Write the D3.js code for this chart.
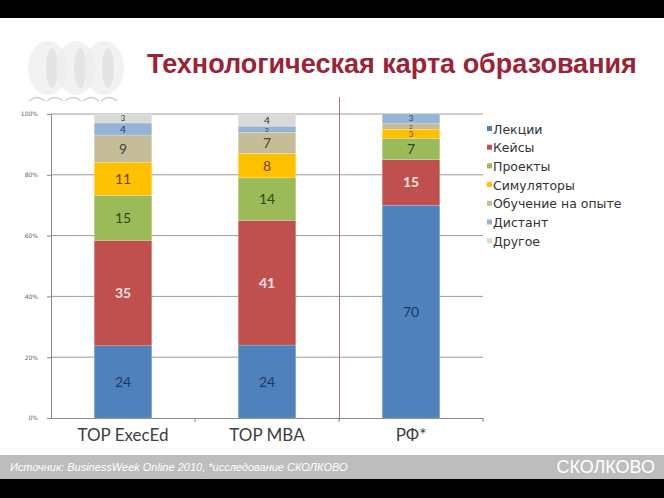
<!DOCTYPE html>
<html><head><meta charset="utf-8">
<script src="https://cdn.jsdelivr.net/npm/d3@7"></script>
<style>body{margin:0;background:#fff}svg{display:block}</style>
</head><body>
<svg id="c" width="664" height="498"></svg>
<script>
const categories = ["TOP ExecEd", "TOP MBA", "РФ*"];
const seriesNames = ["Лекции", "Кейсы", "Проекты", "Симуляторы", "Обучение на опыте", "Дистант", "Другое"];
const lectures   = [24, 24, 70];
const cases      = [35, 41, 15];
const projects   = [15, 14, 7];
const simulators = [11, 8, 3];
const experience = [9, 7, 2];
const distance   = [4, 2, 3];
const other      = [3, 4, 0];
const yTicks = [0, 0.2, 0.4, 0.6, 0.8, 1.0];
const yTickLabels = ["0%", "20%", "40%", "60%", "80%", "100%"];

const colors = ["#4F81BD", "#C0504D", "#9BBB59", "#FFC000", "#C4BD97", "#95B3D7", "#D9D9D9"];
const labelColors = ["#1F3864", "#F8E4E4", "#2E4A17", "#6B4200", "#4A4536", "#1F3864", "#333333"];

const seriesVals = [lectures, cases, projects, simulators, experience, distance, other];
const table = categories.map((c, i) => {
  const o = {cat: c};
  seriesNames.forEach((s, j) => o[s] = seriesVals[j][i]);
  return o;
});
const stacked = d3.stack().keys(seriesNames).offset(d3.stackOffsetExpand)(table);

const svg = d3.select("#c");
// background bands
svg.append("rect").attr("x",0).attr("y",0).attr("width",664).attr("height",18).attr("fill","#000");
svg.append("rect").attr("x",0).attr("y",455).attr("width",664).attr("height",24).attr("fill","#BDBDBD");
svg.append("rect").attr("x",0).attr("y",479).attr("width",664).attr("height",19).attr("fill","#000");

// logo
const logo = svg.append("g").attr("fill","none");
[48, 76, 104].forEach(cx => {
  logo.append("ellipse").attr("cx",cx).attr("cy",68).attr("rx",20).attr("ry",27).attr("fill","#ececec").attr("opacity",0.7);
  logo.append("ellipse").attr("cx",cx+4).attr("cy",68).attr("rx",6).attr("ry",20).attr("fill","#dadada").attr("opacity",0.6);
});
for (let k = 0; k < 5; k++) {
  logo.append("path").attr("d", `M${29+k*18},101 q8,-7 16,0`).attr("stroke","#cccccc").attr("stroke-width",1.5);
}

// title
svg.append("text").attr("x",147).attr("y",73).attr("fill","#9B2335")
  .attr("font-family","Liberation Sans, Arial, sans-serif").attr("font-size",27).attr("font-weight","bold")
  .text("Технологическая карта образования");

const x = d3.scaleBand().domain(categories).range([51, 483]).paddingInner(0.6).paddingOuter(0.3);
const y = d3.scaleLinear().domain([0, 1]).range([418, 114]);

// grid
svg.append("g").selectAll("line").data(yTicks.slice(1)).join("line")
  .attr("x1",51).attr("x2",483).attr("y1",d=>y(d)).attr("y2",d=>y(d))
  .attr("stroke","#9a9a9a").attr("stroke-width",1);

// separator line
svg.append("line").attr("x1",339.5).attr("x2",339.5).attr("y1",97).attr("y2",420)
  .attr("stroke","#B5707A").attr("stroke-width",1);

// y axis
const yAxis = d3.axisLeft(y).tickValues(yTicks).tickFormat((d,i)=>yTickLabels[i]).tickSize(4);
const ya = svg.append("g").attr("transform","translate(51,0)").call(yAxis);
ya.select(".domain").attr("stroke","#888");
ya.selectAll(".tick line").attr("stroke","#888");
ya.selectAll("text").attr("font-size",6).attr("fill","#666").attr("font-family","DejaVu Sans, sans-serif").attr("dx",-6);

// x axis
svg.append("line").attr("x1",51).attr("x2",483).attr("y1",418.5).attr("y2",418.5).attr("stroke","#888");
svg.append("g").selectAll("line").data([1,2,3]).join("line")
  .attr("x1",d=>51+d*x.step()).attr("x2",d=>51+d*x.step()).attr("y1",418).attr("y2",422).attr("stroke","#888");
svg.append("g").selectAll("text").data(categories).join("text")
  .attr("x",d=>x(d)+x.bandwidth()/2).attr("y",441).attr("text-anchor","middle")
  .attr("font-family","Lato, Open Sans, sans-serif").attr("font-size",17).attr("fill","#404040")
  .text(d=>d);

// bars
const layers = svg.append("g").selectAll("g").data(stacked).join("g")
  .attr("fill",(d,i)=>colors[i]);
layers.selectAll("rect").data(d=>d.map(v=>({v, key:d.key}))).join("rect")
  .attr("x",d=>x(d.v.data.cat)).attr("width",x.bandwidth())
  .attr("y",d=>y(d.v[1])).attr("height",d=>Math.max(0,y(d.v[0])-y(d.v[1])))
  .attr("stroke","#ffffff").attr("stroke-opacity",0.35).attr("stroke-width",0.5);

// labels
stacked.forEach((layer, i) => {
  layer.forEach(v => {
    const val = v.data[layer.key];
    if (!val) return;
    const h = y(v[0]) - y(v[1]);
    const fs = Math.max(6.5, Math.min(14, h * 0.85));
    svg.append("text")
      .attr("x", x(v.data.cat) + x.bandwidth()/2)
      .attr("y", (y(v[0]) + y(v[1]))/2)
      .attr("dy","0.36em").attr("text-anchor","middle")
      .attr("font-family","Lato, Open Sans, sans-serif")
      .attr("font-size", fs).attr("font-weight", i===1 ? "bold" : "normal")
      .attr("fill", labelColors[i]).text(val);
  });
});

// legend
const lg = svg.append("g").selectAll("g").data(seriesNames).join("g")
  .attr("transform",(d,i)=>`translate(487,${129 + i*18.7})`);
lg.append("rect").attr("x",0).attr("y",-3).attr("width",5).attr("height",5).attr("fill",(d,i)=>colors[i]);
lg.append("text").attr("x",6).attr("y",0).attr("dy","0.36em")
  .attr("font-family","DejaVu Sans, sans-serif").attr("font-size",12.5).attr("fill","#333").text(d=>d);

// footer
svg.append("text").attr("x",10).attr("y",471).attr("fill","#fff").attr("font-style","italic")
  .attr("font-family","Liberation Sans, Arial, sans-serif").attr("font-size",11)
  .text("Источник: BusinessWeek Online 2010, *исследование СКОЛКОВО");
svg.append("text").attr("x",655).attr("y",473).attr("fill","#fff").attr("text-anchor","end")
  .attr("font-family","Liberation Sans, Arial, sans-serif").attr("font-size",18)
  .text("СКОЛКОВО");
</script>
</body></html>
